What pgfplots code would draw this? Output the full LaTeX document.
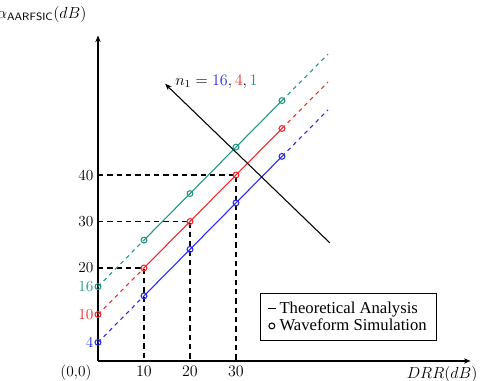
\documentclass[border=0pt]{standalone}
\usepackage{fontspec}
\usepackage{pgfplots}
\pgfplotsset{compat=1.18}
\usetikzlibrary{arrows.meta}
\newfontfamily\timesfont{Liberation Serif}
\definecolor{myblue}{RGB}{40,40,235}
\definecolor{myred}{RGB}{240,40,40}
\definecolor{myteal}{RGB}{30,150,130}

\begin{document}
\begin{tikzpicture}
\useasboundingbox (-73.5pt,-15pt) rectangle (291.75pt,270.75pt);
\begin{axis}[
  anchor=south west, at={(0,0)},
  x=3.45pt, y=3.4875pt,
  xmin=0, xmax=81, ymin=0, ymax=70,
  axis lines=left,
  axis line style={line width=0.8pt, -{Stealth[length=5pt,width=4pt]}},
  xtick={10,20,30}, ytick={4,10,16,20,30,40},
  yticklabels={\textcolor{myblue}{4},\textcolor{myred}{10},\textcolor{myteal}{16},20,30,40},
  major tick length=0pt,
  tick label style={font=\fontsize{11.5}{13}\selectfont},
  clip=false,
  legend style={at={(axis cs:35.2,14.6)}, anchor=north west, draw=black, line width=0.6pt,
    font=\timesfont\fontsize{12.5}{15}\selectfont, inner xsep=5pt, inner ysep=4pt, row sep=-1pt},
  legend cell align=left,
  every axis plot/.append style={line width=0.8pt},
]
\addlegendimage{black, legend image code/.code={\draw[black, line width=0.9pt] (2pt,0pt) -- (8.5pt,0pt);}}
\addlegendentry{Theoretical Analysis}
\addlegendimage{black, legend image code/.code={\draw[black, line width=0.8pt] (5.2pt,0pt) circle (2.2pt);}}
\addlegendentry{Waveform Simulation}

% reference dashed lines
\addplot[black, dash pattern=on 4pt off 3pt, forget plot] coordinates {(0,20) (10,20) (10,0)};
\addplot[black, dash pattern=on 4pt off 3pt, forget plot] coordinates {(0,30) (20,30) (20,0)};
\addplot[black, dash pattern=on 4pt off 3pt, forget plot] coordinates {(0,40) (30,40) (30,0)};

% blue
\addplot[myblue, dash pattern=on 3pt off 3pt, forget plot] coordinates {(0,4) (10,14)};
\addplot[myblue, dash pattern=on 3pt off 3pt, forget plot] coordinates {(40,44) (50,54)};
\addplot[myblue, mark=o, mark size=2.2pt, forget plot] coordinates {(10,14) (20,24) (30,34) (40,44)};
\addplot[myblue, only marks, mark=o, mark size=2.2pt, forget plot] coordinates {(0,4)};
% red
\addplot[myred, dash pattern=on 3pt off 3pt, forget plot] coordinates {(0,10) (10,20)};
\addplot[myred, dash pattern=on 3pt off 3pt, forget plot] coordinates {(40,50) (50,60)};
\addplot[myred, mark=o, mark size=2.2pt, forget plot] coordinates {(10,20) (20,30) (30,40) (40,50)};
\addplot[myred, only marks, mark=o, mark size=2.2pt, forget plot] coordinates {(0,10)};
% teal
\addplot[myteal, dash pattern=on 3pt off 3pt, forget plot] coordinates {(0,16) (10,26)};
\addplot[myteal, dash pattern=on 3pt off 3pt, forget plot] coordinates {(40,56) (50,66)};
\addplot[myteal, mark=o, mark size=2.2pt, forget plot] coordinates {(10,26) (20,36) (30,46) (40,56)};
\addplot[myteal, only marks, mark=o, mark size=2.2pt, forget plot] coordinates {(0,16)};

% arrow
\addplot[black, -{Stealth[length=5pt,width=4pt]}, forget plot] coordinates {(50.4,25.4) (14.6,59.6)};

\node[anchor=west, font=\fontsize{12}{14}\selectfont] at (axis cs:15.8,60)
  {$n_1 = \textcolor{myblue}{16}, \textcolor{myred}{4}, \textcolor{myteal}{1}$};
\node[anchor=east, font=\fontsize{12}{14}\selectfont] at (axis cs:-1.5,74.6)
  {$\alpha_{\mathsf{AARFSIC}}(dB)$};
\node[anchor=east, font=\fontsize{12}{14}\selectfont] at (axis cs:83.5,-3)
  {$DRR(dB)$};
\node[font=\fontsize{11.5}{13}\selectfont] at (axis cs:-4.8,-2.6) {(0,0)};
\end{axis}
\end{tikzpicture}
\end{document}
